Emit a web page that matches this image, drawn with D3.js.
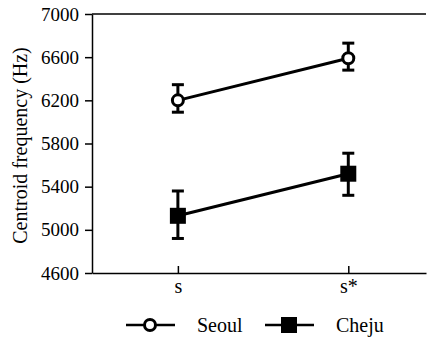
<!DOCTYPE html>
<html>
<head>
<meta charset="utf-8">
<script src="https://cdn.jsdelivr.net/npm/d3@7"></script>
<style>
  body { margin: 0; background: #fff; }
  svg { display: block; }
</style>
</head>
<body>
<div id="chart"></div>
<script>
// categories on the x axis
const categories = ["s", "s*"];
// y ticks
const yTicks = [4600, 5000, 5400, 5800, 6200, 6600, 7000];

// series: means and error bar ends (Hz)
const seoulMean = [6200, 6590];
const seoulLow = [6090, 6480];
const seoulHigh = [6345, 6730];

const chejuMean = [5130, 5520];
const chejuLow = [4920, 5320];
const chejuHigh = [5360, 5710];

const series = [
    {name: "Seoul", mean: seoulMean, low: seoulLow, high: seoulHigh, shape: "circle"},
    {name: "Cheju", mean: chejuMean, low: chejuLow, high: chejuHigh, shape: "square"}
];

const FONT = "Liberation Serif";

const W = 427, H = 339;
const margin = {top: 14, right: 1, bottom: 66, left: 92};
const width = W - margin.left - margin.right;
const height = H - margin.top - margin.bottom;

const svg = d3.select("#chart").append("svg")
    .attr("width", W)
    .attr("height", H)
    .attr("font-family", FONT);

const g = svg.append("g")
    .attr("transform", "translate(" + margin.left + "," + margin.top + ")");

const x = d3.scalePoint()
    .domain(categories)
    .range([0, width])
    .padding(0.48)
    .align(0.525);

const y = d3.scaleLinear()
    .domain([4600, 7000])
    .range([height, 0]);

// top frame line
g.append("line")
    .attr("x1", 0).attr("x2", width)
    .attr("y1", 0).attr("y2", 0)
    .attr("stroke", "#000").attr("stroke-width", 1.5);

// left axis
const yAxis = g.append("g")
    .call(d3.axisLeft(y).tickValues(yTicks).tickSizeInner(7).tickSizeOuter(0).tickPadding(6).tickFormat(d3.format("d")))
    .attr("font-family", FONT)
    .attr("font-size", 19);
yAxis.select(".domain").attr("stroke-width", 1.5);
yAxis.selectAll(".tick line").attr("stroke-width", 1.5);
yAxis.selectAll("text").attr("font-family", FONT).attr("fill", "#000");

// bottom axis, ticks point inward
const xAxis = g.append("g")
    .attr("transform", "translate(0," + height + ")")
    .call(d3.axisBottom(x).tickSizeInner(-7).tickSizeOuter(0).tickPadding(6))
    .attr("font-family", FONT)
    .attr("font-size", 20);
xAxis.select(".domain").attr("stroke-width", 1.5);
xAxis.selectAll(".tick line").attr("stroke-width", 1.5);
xAxis.selectAll("text").attr("font-family", FONT).attr("fill", "#000");

// y label
svg.append("text")
    .attr("transform", "translate(27," + (margin.top + height / 2 + 2) + ") rotate(-90)")
    .attr("text-anchor", "middle")
    .attr("font-family", FONT)
    .attr("font-size", 20)
    .text("Centroid frequency (Hz)");

const line = d3.line()
    .x((d, i) => x(categories[i]))
    .y(d => y(d));

const capW = 6;

function drawMarker(sel, shape, cx, cy) {
    if (shape === "circle") {
        sel.append("circle")
            .attr("cx", cx).attr("cy", cy).attr("r", 5.5)
            .attr("fill", "#fff").attr("stroke", "#000").attr("stroke-width", 3);
    } else {
        sel.append("rect")
            .attr("x", cx - 8).attr("y", cy - 8)
            .attr("width", 16).attr("height", 16)
            .attr("fill", "#000");
    }
}

series.forEach(s => {
    const sg = g.append("g");
    sg.append("path")
        .datum(s.mean)
        .attr("d", line)
        .attr("fill", "none")
        .attr("stroke", "#000")
        .attr("stroke-width", 3);

    categories.forEach((c, i) => {
        const cx = x(c);
        sg.append("line")
            .attr("x1", cx).attr("x2", cx)
            .attr("y1", y(s.low[i])).attr("y2", y(s.high[i]))
            .attr("stroke", "#000").attr("stroke-width", 3);
        [s.low[i], s.high[i]].forEach(v => {
            sg.append("line")
                .attr("x1", cx - capW).attr("x2", cx + capW)
                .attr("y1", y(v)).attr("y2", y(v))
                .attr("stroke", "#000").attr("stroke-width", 3);
        });
        drawMarker(sg, s.shape, cx, y(s.mean[i]));
    });
});

// legend
const legend = svg.append("g").attr("transform", "translate(126,325)");
const legendItems = [
    {name: "Seoul", shape: "circle", x0: 0},
    {name: "Cheju", shape: "square", x0: 139}
];
legendItems.forEach(it => {
    const lg = legend.append("g").attr("transform", "translate(" + it.x0 + ",0)");
    lg.append("line")
        .attr("x1", 0).attr("x2", 49)
        .attr("y1", 0).attr("y2", 0)
        .attr("stroke", "#000").attr("stroke-width", 2.5);
    drawMarker(lg, it.shape, 24, 0);
    lg.append("text")
        .attr("x", 71)
        .attr("y", 7)
        .attr("font-family", FONT)
        .attr("font-size", 20)
        .text(it.name);
});
</script>
</body>
</html>
